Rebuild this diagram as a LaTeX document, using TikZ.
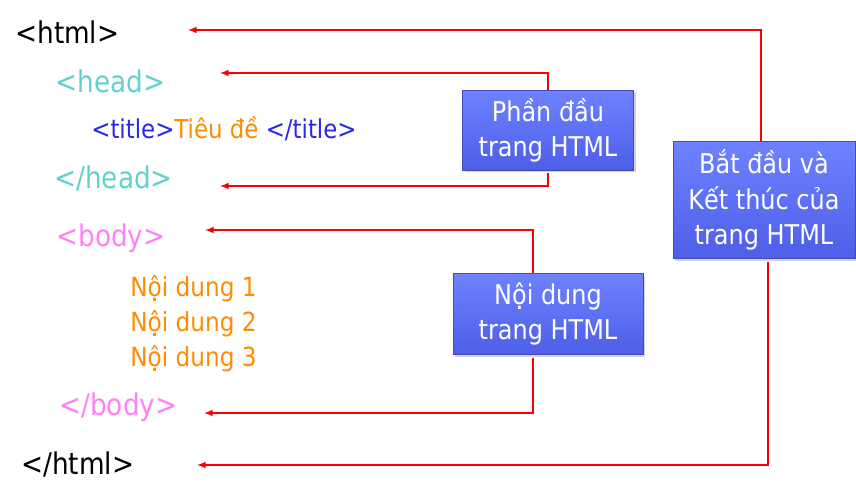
\documentclass[tikz,border=0pt]{standalone}
\usepackage{fontspec}
\setmainfont{DejaVu Sans}[FakeStretch=0.88]
\usepackage{xcolor}
\usetikzlibrary{arrows,calc,shadows,positioning}
\definecolor{htmlcolor}{RGB}{0, 0, 0}
\definecolor{headcolor}{RGB}{95, 210, 205}
\definecolor{titlecolor}{RGB}{40, 40, 235}
\definecolor{textcolor}{RGB}{255, 140, 0}
\definecolor{bodycolor}{RGB}{255, 130, 245}
\definecolor{linkcolor}{RGB}{250, 0, 0}
\definecolor{boxtop}{RGB}{110, 130, 255}
\definecolor{boxbottom}{RGB}{78, 94, 232}
\definecolor{boxedge}{RGB}{65, 75, 190}

\begin{document}
\begin{tikzpicture}[x=0.02cm, y=-0.02cm,
    tag/.style={anchor=base west, inner sep=0pt, font=\fontsize{17}{20}\selectfont},
    content/.style={anchor=base west, inner sep=0pt, text=textcolor, font=\fontsize{15}{18}\selectfont},
    infobox/.style={draw=boxedge, line width=0.4pt, top color=boxtop, bottom color=boxbottom,
      drop shadow={shadow xshift=1.2pt, shadow yshift=-1.2pt, opacity=0.35},
      text=white, align=center, inner sep=0pt, font=\fontsize{15.5}{20}\selectfont},
    link/.style={->, >=latex, linkcolor, line width=0.7pt}]
  % Set page size
  \useasboundingbox (0,0) rectangle (856,504);

  % HTML tags
  \node[tag, text=htmlcolor] (html) at (15,43) {<html>};
  \node[tag, text=headcolor] (head) at (55,92) {<head>};
  \node[tag, font=\fontsize{14.8}{17}\selectfont, text=titlecolor] (title) at (91,138)
    {<title>\textcolor{textcolor}{Tiêu đề }</title>};
  \node[tag, text=headcolor] (headend) at (54,188) {</head>};
  \node[tag, text=bodycolor] (body) at (56,246) {<body>};

  % Body content
  \node[content] (item1) at (130,296) {Nội dung 1};
  \node[content] (item2) at (130,331) {Nội dung 2};
  \node[content] (item3) at (130,366) {Nội dung 3};

  \node[tag, text=bodycolor] (bodyend) at (59,415) {</body>};
  \node[tag, text=htmlcolor] (htmlend) at (21,474) {</html>};

  % Explanation boxes
  \node[infobox, minimum width=3.42cm, minimum height=1.6cm] (headbox) at (548,130)
    {Phần đầu\\trang HTML};
  \node[infobox, minimum width=3.64cm, minimum height=2.34cm] (pagebox) at (764,200)
    {Bắt đầu và\\Kết thúc của\\trang HTML};
  \node[infobox, minimum width=3.8cm, minimum height=1.62cm] (bodybox) at (548,314)
    {Nội dung\\trang HTML};

  % Arrow tips beside the tags
  \coordinate (htmltip) at (188,30);
  \coordinate (headtip) at (220,73);
  \coordinate (headendtip) at (220,186);
  \coordinate (bodytip) at (205,230);
  \coordinate (bodyendtip) at (204,413);
  \coordinate (htmlendtip) at (197,465);

  % Connections
  \draw[link] ($(pagebox.north)+(-3,0)$) |- (htmltip);
  \draw[link] ($(pagebox.south)+(4,3)$) |- (htmlendtip);
  \draw[link] (headbox.north) |- (headtip);
  \draw[link] ($(headbox.south)+(0,3)$) |- (headendtip);
  \draw[link] ($(bodybox.north)+(-15,0)$) |- (bodytip);
  \draw[link] ($(bodybox.south)+(-15,3)$) |- (bodyendtip);

\end{tikzpicture}
\end{document}
